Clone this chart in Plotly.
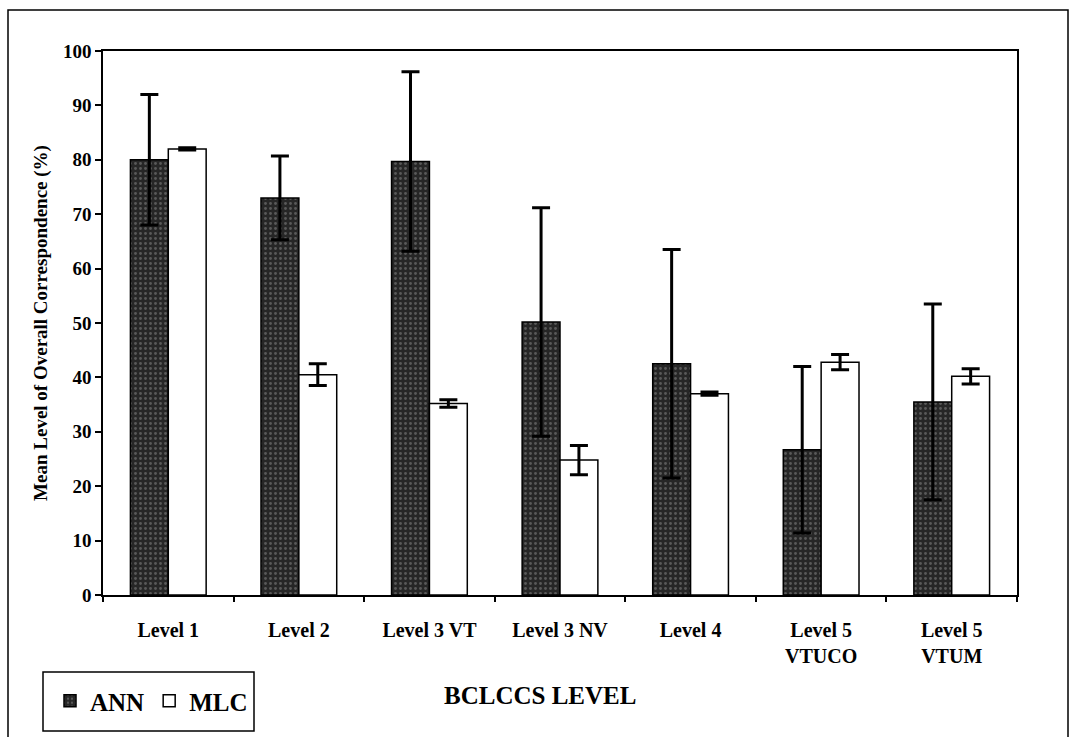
import plotly.graph_objects as go

categories = ["Level 1", "Level 2", "Level 3 VT", "Level 3 NV", "Level 4",
              "Level 5<br>VTUCO", "Level 5<br>VTUM"]
ann_mean = [80.0, 73.0, 79.7, 50.2, 42.5, 26.7, 35.5]
ann_err = [12.0, 7.7, 16.5, 21.0, 21.0, 15.3, 18.0]
mlc_mean = [82.0, 40.5, 35.2, 24.8, 37.0, 42.8, 40.2]
mlc_err = [0.2, 2.0, 0.7, 2.7, 0.3, 1.4, 1.4]
y_ticks = [0, 10, 20, 30, 40, 50, 60, 70, 80, 90, 100]

FONT = "Liberation Serif"
W, H = 1078, 737
L, R, T, B = 103, 61, 51, 142
pw, ph = W - L - R, H - T - B


def px_x(x):
    return (x - L) / pw


def px_y(y):
    return (H - B - y) / ph


fig = go.Figure()
fig.add_trace(go.Bar(
    name="ANN", x=categories, y=ann_mean,
    marker=dict(color="#262626", line=dict(color="black", width=1.5),
                pattern=dict(shape=".", fgcolor="#8c8c8c", bgcolor="#262626",
                             size=5, solidity=0.25)),
    error_y=dict(type="data", array=ann_err, visible=True,
                 color="black", thickness=3, width=9),
))
fig.add_trace(go.Bar(
    name="MLC", x=categories, y=mlc_mean,
    marker=dict(color="white", line=dict(color="black", width=1.5)),
    error_y=dict(type="data", array=mlc_err, visible=True,
                 color="black", thickness=3, width=9),
))

fig.update_layout(
    width=W, height=H,
    margin=dict(l=L, r=R, t=T, b=B),
    paper_bgcolor="white", plot_bgcolor="white",
    barmode="group", bargap=0.42, bargroupgap=0,
    font=dict(family=FONT, color="black"),
    showlegend=True,
    legend=dict(orientation="h", x=px_x(50), y=px_y(701),
                xanchor="left", yanchor="middle",
                borderwidth=0, bgcolor="rgba(0,0,0,0)",
                font=dict(family=FONT, size=25, color="black", weight="bold"),
                itemwidth=30, traceorder="normal"),
    xaxis=dict(
        showline=True, linecolor="black", linewidth=1.5, mirror=True,
        ticks="outside", tickson="boundaries", ticklen=5,
        tickcolor="black", tickwidth=1.5, ticklabelstandoff=16,
        tickfont=dict(family=FONT, size=20, color="black", weight="bold"),
        showgrid=False,
    ),
    yaxis=dict(
        range=[0, 100], tickvals=y_ticks, showline=True, linecolor="black",
        linewidth=1.5, mirror=True, ticks="outside", ticklen=6,
        tickcolor="black", tickwidth=1.5, showgrid=False, zeroline=False,
        tickfont=dict(family=FONT, size=19, color="black", weight="bold"),
        title=dict(text="Mean Level of Overall Correspondence (%)",
                   font=dict(family=FONT, size=19, color="black", weight="bold"),
                   standoff=10),
    ),
    annotations=[dict(
        text="<b>BCLCCS LEVEL</b>", xref="paper", yref="paper",
        x=px_x(540), y=px_y(695), xanchor="center", yanchor="middle",
        showarrow=False, font=dict(family=FONT, size=25, color="black"),
    )],
    shapes=[
        # outer frame around the whole figure
        dict(type="rect", xref="paper", yref="paper",
             x0=px_x(8), x1=px_x(1068), y0=px_y(740), y1=px_y(10),
             line=dict(color="black", width=1.5), layer="below"),
        # frame around the legend
        dict(type="rect", xref="paper", yref="paper",
             x0=px_x(43), x1=px_x(254), y0=px_y(731), y1=px_y(672),
             line=dict(color="black", width=1.5), layer="below"),
    ],
)

fig.write_html("out.html")
